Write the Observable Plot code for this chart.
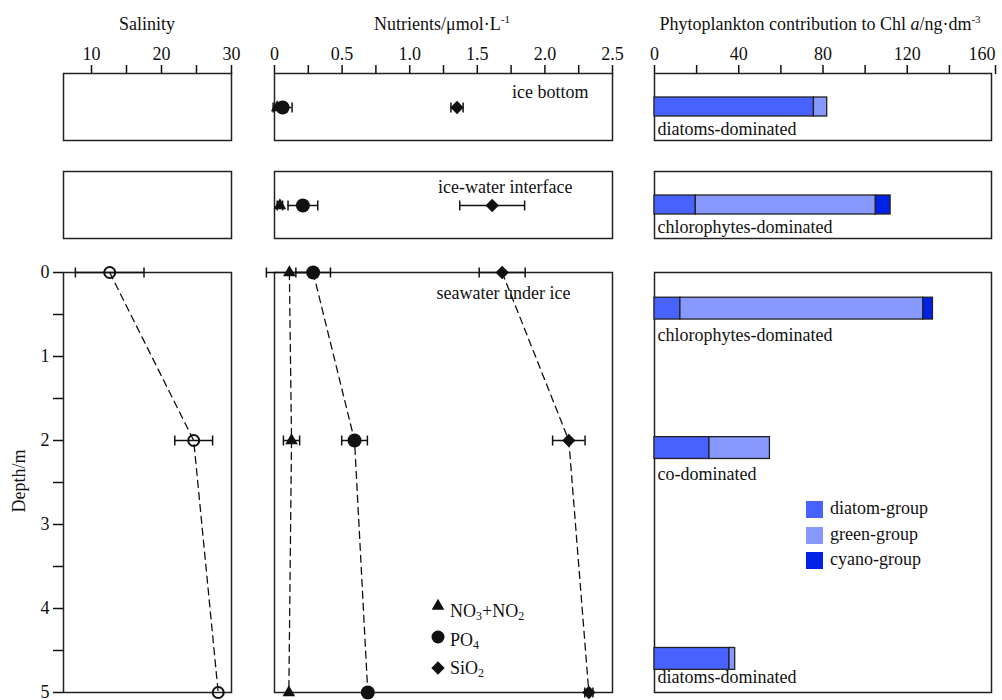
<!DOCTYPE html>
<html><head><meta charset="utf-8">
<script src="https://cdn.jsdelivr.net/npm/d3@7"></script>
<script src="https://cdn.jsdelivr.net/npm/@observablehq/plot@0.6"></script>
<style>
body{margin:0;background:#fff;}
#root{position:relative;width:1002px;height:700px;font-family:"Liberation Serif","Times New Roman",serif;color:#111;overflow:hidden;}
.t{position:absolute;font-size:18px;line-height:1;white-space:nowrap;}
.t sub{font-size:12px;vertical-align:-3px;line-height:0;}
.t sup{font-size:11px;vertical-align:7px;line-height:0;}
.sw{position:absolute;width:17px;height:17px;}
</style></head><body><div id="root"></div>
<script>
// ---------- data ----------
const salinityDepth = [0, 2, 5];
const salinity = [12.6, 24.6, 28.1];
const salinityErr = [4.9, 2.7, 0];

const nutrients = ["NO3+NO2", "PO4", "SiO2"];
const iceBottom = [0.02, 0.06, 1.35];
const iceBottomErr = [0, 0.07, 0.045];
const iceWater = [0.04, 0.21, 1.61];
const iceWaterErr = [0.02, 0.11, 0.24];
const seawaterDepth = [0, 2, 5];
const seaNO = [0.11, 0.126, 0.106];
const seaNOErr = [0.17, 0.06, 0];
const seaPO = [0.286, 0.592, 0.69];
const seaPOErr = [0.128, 0.095, 0];
const seaSi = [1.684, 2.177, 2.325];
const seaSiErr = [0.17, 0.12, 0.03];

const groups = ["diatom-group", "green-group", "cyano-group"];
const groupColors = ["#4862ff", "#8799ff", "#0022e6"];
const phytoSites = ["ice bottom", "ice-water interface", "0 m", "2 m", "5 m"];
const diatom = [75.7, 19.6, 12.3, 26.1, 35.6];
const green = [6.3, 85.5, 115.3, 28.7, 2.7];
const cyano = [0, 7.0, 4.6, 0, 0];
const phytoLabels = ["diatoms-dominated", "chlorophytes-dominated", "chlorophytes-dominated", "co-dominated", "diatoms-dominated"];
const seaBarTop = [0.30, 1.96, 4.47];
const seaBarBottom = [0.56, 2.22, 4.73];
const seaLabelDepth = [0.75, 2.405, 4.82];

const salTicks = [10, 20, 30], salMinor = [15, 25];
const nutTicks = [0, 0.5, 1.0, 1.5, 2.0, 2.5], nutMinor = [0.25, 0.75, 1.25, 1.75, 2.25];
const chlTicks = [0, 40, 80, 120], chlLast = [160], chlMinor = [20, 60, 100, 140];
const depthTicks = [0, 1, 2, 3, 4, 5], depthMinor = [0.5, 1.5, 2.5, 3.5, 4.5];

// ---------- helpers ----------
const root = document.getElementById("root");
const W = 1002, H = 700;
const FONT = '"Liberation Serif", "Times New Roman", serif';
const INK = "#111";
function panel(box, opts) {
  const [l, r, t, b] = box;
  const svg = Plot.plot({
    width: W, height: H,
    marginLeft: l, marginRight: W - r, marginTop: t, marginBottom: H - b,
    style: {background: "transparent", overflow: "visible", fontFamily: FONT, fontSize: "18px", color: INK},
    ...opts
  });
  svg.style.position = "absolute"; svg.style.left = "0px"; svg.style.top = "0px";
  svg.style.maxWidth = "none";
  root.appendChild(svg);
}
const frame = () => Plot.frame({stroke: "#222", strokeWidth: 1.5});
const capSymbol = {draw(ctx, size) { const h = Math.sqrt(size / Math.PI); ctx.moveTo(0, -h); ctx.lineTo(0, h); }};
function errorBars(rows, y) {
  const f = rows.filter(d => d.e > 0);
  const lo = d => d.v - d.e, hi = d => d.v + d.e;
  return [
    Plot.ruleY(f, {y, x1: lo, x2: hi, stroke: INK, strokeWidth: 1.5}),
    Plot.dot(f, {x: lo, y, symbol: capSymbol, r: 5, fill: "none", stroke: INK, strokeWidth: 1.5}),
    Plot.dot(f, {x: hi, y, symbol: capSymbol, r: 5, fill: "none", stroke: INK, strokeWidth: 1.5})
  ];
}
const nutSym = {"NO3+NO2": ["triangle", 4.7], "PO4": ["circle", 7], "SiO2": ["diamond2", 6]};
function nutrientDots(rows, y) {
  return nutrients.map(n => Plot.dot(rows.filter(d => d.nut === n),
    {x: "v", y, symbol: nutSym[n][0], r: nutSym[n][1], fill: INK, stroke: "none"}));
}
function topAxis(ticks, minor, fmt) {
  return [
    Plot.axisX({anchor: "top", ticks, tickFormat: fmt, tickSize: 9, tickPadding: 5, strokeWidth: 1.5, label: null}),
    Plot.axisX({anchor: "top", ticks: minor, tickFormat: () => "", tickSize: 9, strokeWidth: 1.5, label: null})
  ];
}
const nutFmt = d => d === 0 ? "0" : d.toFixed(1);

// ---------- column 1: salinity ----------
panel([63, 231, 73, 140], {x: {domain: [6, 30]}, marks: [frame(), ...topAxis(salTicks, salMinor, d => String(d))]});
panel([63, 231, 171, 238], {marks: [frame()]});
const salRows = salinityDepth.map((d, i) => ({depth: d, v: salinity[i], e: salinityErr[i]}));
panel([63, 231, 272, 692], {
  x: {domain: [6, 30], axis: null},
  y: {domain: [0, 5], reverse: true},
  marks: [
    frame(),
    Plot.axisY({anchor: "left", ticks: depthTicks, tickFormat: d => String(d), tickSize: 10, tickPadding: 4, strokeWidth: 1.5, label: null}),
    Plot.axisY({anchor: "left", ticks: depthMinor, tickFormat: () => "", tickSize: 10, strokeWidth: 1.5, label: null}),
    Plot.line(salRows, {x: "v", y: "depth", stroke: INK, strokeWidth: 1.3, strokeDasharray: "7,5"}),
    ...errorBars(salRows, "depth"),
    Plot.dot(salRows, {x: "v", y: "depth", r: 5.5, fill: "none", stroke: INK, strokeWidth: 2})
  ]
});

// ---------- column 2: nutrients ----------
const ibRows = nutrients.map((n, i) => ({nut: n, site: "ice bottom", v: iceBottom[i], e: iceBottomErr[i]}));
panel([274, 612, 73, 140], {
  x: {domain: [0, 2.5]},
  y: {type: "point", domain: ["ice bottom"], axis: null},
  marks: [
    frame(), ...topAxis(nutTicks, nutMinor, nutFmt),
    ...errorBars(ibRows, "site"), ...nutrientDots(ibRows, "site"),
    Plot.text(["ice bottom"], {text: d => d, frameAnchor: "top-right", textAnchor: "end", lineAnchor: "middle", dx: -24, dy: 19, fill: INK})
  ]
});
const iwRows = nutrients.map((n, i) => ({nut: n, site: "ice-water interface", v: iceWater[i], e: iceWaterErr[i]}));
panel([274, 612, 171, 238], {
  x: {domain: [0, 2.5], axis: null},
  y: {type: "point", domain: ["ice-water interface"], axis: null},
  marks: [
    frame(),
    ...errorBars(iwRows, "site"), ...nutrientDots(iwRows, "site"),
    Plot.text(["ice-water interface"], {text: d => d, frameAnchor: "top-right", textAnchor: "end", lineAnchor: "middle", dx: -40, dy: 16, fill: INK})
  ]
});
const seaRows = [];
seawaterDepth.forEach((dep, i) => {
  seaRows.push({nut: "NO3+NO2", depth: dep, v: seaNO[i], e: seaNOErr[i]});
  seaRows.push({nut: "PO4", depth: dep, v: seaPO[i], e: seaPOErr[i]});
  seaRows.push({nut: "SiO2", depth: dep, v: seaSi[i], e: seaSiErr[i]});
});
panel([274, 612, 272, 692], {
  x: {domain: [0, 2.5], axis: null},
  y: {domain: [0, 5], reverse: true, axis: null},
  marks: [
    frame(),
    Plot.line(seaRows, {x: "v", y: "depth", z: "nut", stroke: INK, strokeWidth: 1.3, strokeDasharray: "7,5"}),
    ...errorBars(seaRows, "depth"), ...nutrientDots(seaRows, "depth"),
    Plot.text(["seawater under ice"], {text: d => d, frameAnchor: "top-right", textAnchor: "end", lineAnchor: "middle", dx: -42, dy: 21, fill: INK})
  ]
});

// ---------- column 3: phytoplankton ----------
function segs(i, extra) {
  const vals = [diatom[i], green[i], cyano[i]];
  const ends = d3.cumsum(vals);
  return groups.map((g, k) => ({group: g, site: phytoSites[i], x1: ends[k] - vals[k], x2: ends[k], v: vals[k], ...extra}))
    .filter(d => d.v > 0);
}
const color = {domain: groups, range: groupColors};
[[0, [654, 991, 73, 140]], [1, [654, 991, 171, 238]]].forEach(([i, box]) => {
  panel(box, {
    x: {domain: [0, 160], axis: i === 0 ? undefined : null},
    y: {type: "band", domain: [phytoSites[i]], padding: 0, axis: null},
    color,
    marks: [
      frame(),
      ...(i === 0 ? [
        ...topAxis(chlTicks, chlMinor, d => String(d)),
        Plot.axisX({anchor: "top", ticks: chlLast, tickFormat: d => String(d), tickSize: 9, tickPadding: 5, strokeWidth: 1.5, label: null, textAnchor: "end", dx: 4})
      ] : []),
      Plot.barX(segs(i), {x1: "x1", x2: "x2", y: "site", fill: "group", stroke: "#222", strokeWidth: 1.3, insetTop: 24, insetBottom: 24}),
      Plot.text([phytoLabels[i]], {text: d => d, x: () => 0, y: () => phytoSites[i], dx: 3, dy: 22, textAnchor: "start", lineAnchor: "middle", fill: INK})
    ]
  });
});
const seaSegs = [2, 3, 4].flatMap((i, j) => segs(i, {top: seaBarTop[j], bottom: seaBarBottom[j]}));
const seaLabels = [2, 3, 4].map((i, j) => ({label: phytoLabels[i], depth: seaLabelDepth[j]}));
panel([654, 991, 272, 692], {
  x: {domain: [0, 160], axis: null},
  y: {domain: [0, 5], reverse: true, axis: null},
  color,
  marks: [
    frame(),
    Plot.rect(seaSegs, {x1: "x1", x2: "x2", y1: "top", y2: "bottom", fill: "group", stroke: "#222", strokeWidth: 1.3}),
    Plot.text(seaLabels, {text: "label", x: () => 0, y: "depth", dx: 3, textAnchor: "start", lineAnchor: "middle", fill: INK})
  ]
});

// ---------- html text: titles, labels, legends ----------
function addText(html, left, top, extra) {
  const d = document.createElement("div");
  d.className = "t"; d.innerHTML = html;
  d.style.left = left + "px"; d.style.top = top + "px";
  if (extra) Object.assign(d.style, extra);
  root.appendChild(d);
  return d;
}
addText("Salinity", 147, 15, {transform: "translateX(-50%)"});
addText("Nutrients/μmol·L<sup>-1</sup>", 442, 15, {transform: "translateX(-50%)"});
addText("Phytoplankton contribution to Chl <i>a</i>/ng·dm<sup>-3</sup>", 820, 15, {transform: "translateX(-50%)"});
addText("Depth/m", 19, 481, {transform: "translate(-50%,-50%) rotate(-90deg)"});

// nutrient legend
const legNut = [["NO<sub>3</sub>+NO<sub>2</sub>", d3.symbolTriangle, 4.7, 606, 602],
                ["PO<sub>4</sub>", d3.symbolCircle, 6.5, 637, 631],
                ["SiO<sub>2</sub>", d3.symbolDiamond2, 6, 668, 659]];
const legLabels = ["NO3+NO2", "PO4", "SiO2"];
legNut.forEach(([html, type, r, cy, top], k) => {
  const s = d3.create("svg").attr("width", 20).attr("height", 20)
    .style("position", "absolute").style("left", (438 - 10) + "px").style("top", (cy - 10) + "px");
  s.append("path").attr("transform", "translate(10,10)").attr("fill", INK)
    .attr("d", d3.symbol(type, Math.PI * r * r)());
  s.attr("aria-label", legLabels[k]);
  root.appendChild(s.node());
  addText(html, 450, top);
});

// phytoplankton legend
groups.forEach((g, k) => {
  const sw = document.createElement("div");
  sw.className = "sw"; sw.style.background = groupColors[k];
  sw.style.left = "806px"; sw.style.top = (501 + k * 25.5) + "px";
  root.appendChild(sw);
  addText(g, 830, 499 + k * 25.5);
});
</script>
</body></html>
